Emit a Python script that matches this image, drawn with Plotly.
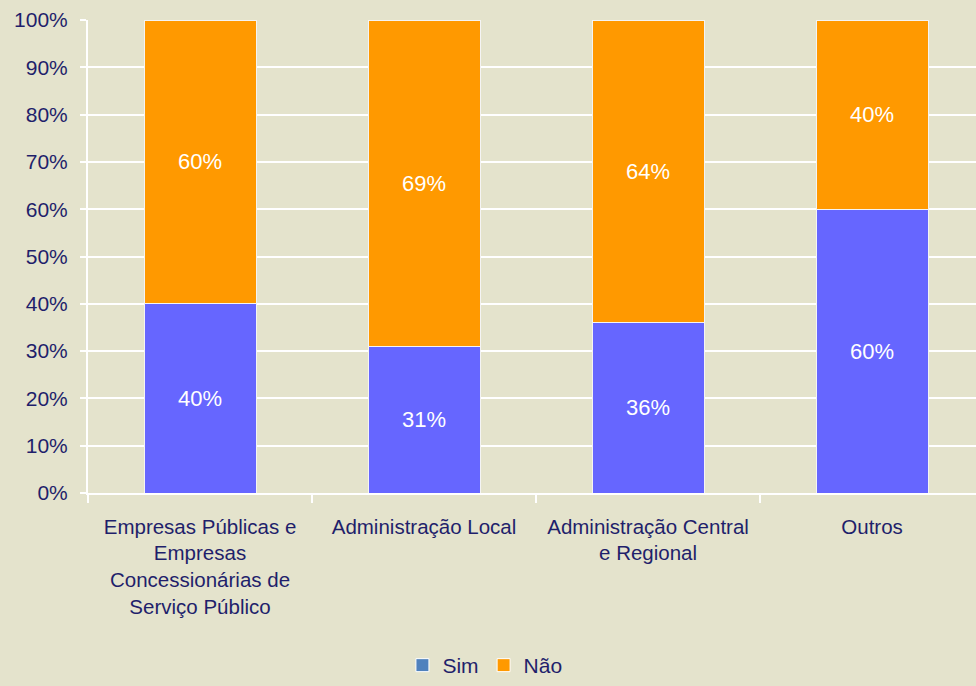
import plotly.graph_objects as go

categories = ["Empresas Públicas e<br>Empresas<br>Concessionárias de<br>Serviço Público",
              "Administração Local",
              "Administração Central<br>e Regional",
              "Outros"]
sim = [40, 31, 36, 60]
nao = [60, 69, 64, 40]
y_ticks = [0, 10, 20, 30, 40, 50, 60, 70, 80, 90, 100]
y_tick_labels = [f"{v}%" for v in y_ticks]

BG = "#e4e3cc"
TXT = "#1f1f6b"
FONT = "Liberation Sans, Arial, sans-serif"

fig = go.Figure()
fig.add_trace(go.Bar(x=categories, y=sim, name="Sim", marker=dict(color="#6666ff", line=dict(color="#f4f4f4", width=1)),
                     text=[f"{v}%" for v in sim], textposition="inside", insidetextanchor="middle",
                     textfont=dict(color="white", size=22, family=FONT), showlegend=False))
fig.add_trace(go.Bar(x=categories, y=nao, name="Não", marker=dict(color="#ff9900", line=dict(color="#f4f4f4", width=1)),
                     text=[f"{v}%" for v in nao], textposition="inside", insidetextanchor="middle",
                     textfont=dict(color="white", size=22, family=FONT), showlegend=False))
# legend entries
fig.add_trace(go.Scatter(x=[None], y=[None], mode="markers", name="Sim",
                         marker=dict(symbol="square", size=13, color="#4f81bd", line=dict(color="white", width=1))))
fig.add_trace(go.Scatter(x=[None], y=[None], mode="markers", name="Não",
                         marker=dict(symbol="square", size=13, color="#ff9900", line=dict(color="white", width=1))))

fig.update_layout(
    width=976, height=686,
    barmode="stack", bargap=0.5,
    paper_bgcolor=BG, plot_bgcolor=BG,
    margin=dict(l=88, r=0, t=20, b=193, autoexpand=False),
    font=dict(family=FONT, color=TXT, size=20),
    legend=dict(orientation="h", x=0.447, xanchor="center", yref="container", y=0.0, yanchor="bottom",
                traceorder="normal",
                font=dict(size=21, color=TXT), itemwidth=30, bgcolor="rgba(0,0,0,0)"),
    xaxis=dict(type="category", range=[-0.5, 3.464], showgrid=False, automargin=False,
               showline=True, linecolor="white", linewidth=2,
               ticks="outside", tickson="boundaries", tickcolor="white", ticklen=8, tickwidth=2,
               ticklabelstandoff=14,
               tickfont=dict(size=20.5, color=TXT), fixedrange=True),
    yaxis=dict(range=[0, 100], tickvals=y_ticks, ticktext=y_tick_labels, automargin=False,
               showgrid=True, gridcolor="white", gridwidth=2,
               showline=True, linecolor="white", linewidth=2,
               ticks="outside", ticklen=6, tickcolor="white", tickwidth=2,
               ticklabelstandoff=8,
               tickfont=dict(size=21, color=TXT), zeroline=False),
)

fig.write_html("out.html", config={"displayModeBar": False},
               post_script="document.body.style.margin='0';document.body.style.background='%s';" % BG)
